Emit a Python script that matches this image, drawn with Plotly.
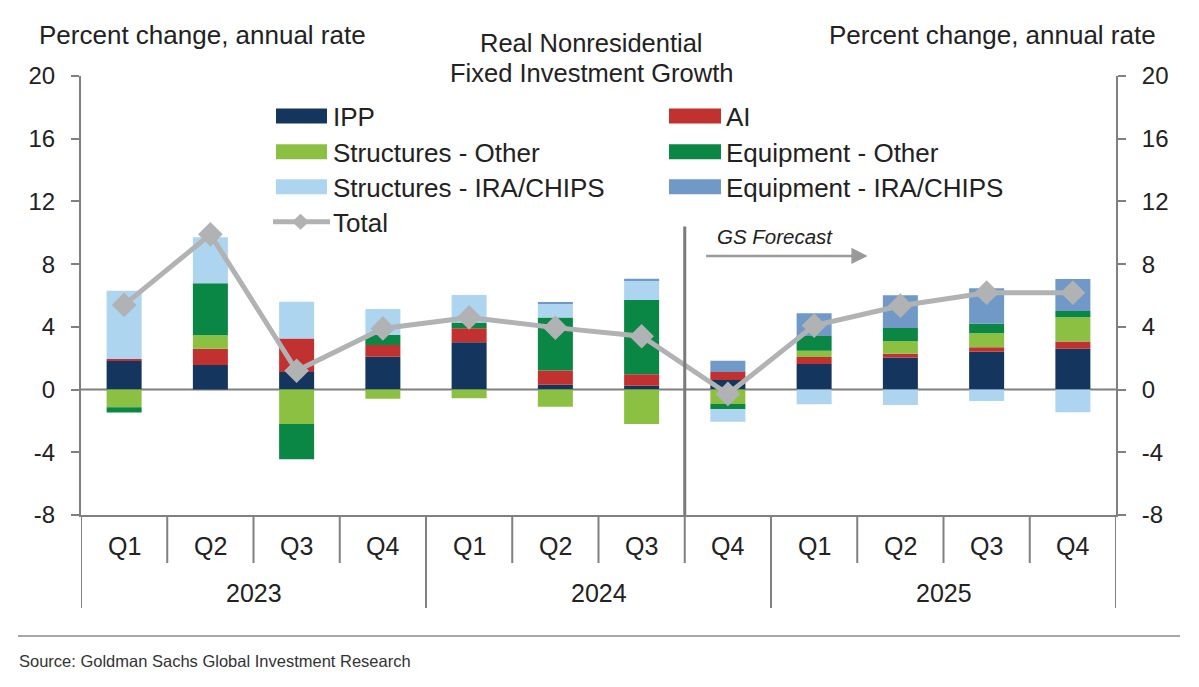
import plotly.graph_objects as go

quarters = ["Q1", "Q2", "Q3", "Q4"] * 3
years = ["2023", "2024", "2025"]

ipp = [1.84, 1.57, 1.12, 2.10, 3.02, 0.31, 0.25, 0.61, 1.63, 2.04, 2.42, 2.61]
ai = [0.11, 1.04, 2.13, 0.74, 0.89, 0.90, 0.73, 0.51, 0.45, 0.25, 0.28, 0.45]
struct_other = [-1.13, 0.85, -2.19, -0.58, -0.56, -1.09, -2.19, -0.92, 0.40, 0.81, 0.89, 1.55]
equip_other = [-0.34, 3.32, -2.26, 0.64, 0.36, 3.38, 4.73, -0.34, 0.94, 0.83, 0.61, 0.40]
struct_ira = [4.36, 2.93, 2.35, 1.66, 1.76, 0.89, 1.26, -0.79, -0.94, -0.98, -0.73, -1.45]
equip_ira = [0.0, 0.0, 0.0, 0.0, 0.0, 0.11, 0.10, 0.72, 1.45, 2.08, 2.26, 2.04]
total = [5.4, 9.9, 1.2, 3.9, 4.6, 3.95, 3.4, -0.28, 4.08, 5.35, 6.18, 6.18]

names = ["IPP", "AI", "Structures - Other", "Equipment - Other",
         "Structures - IRA/CHIPS", "Equipment - IRA/CHIPS"]
colors = ["#14365E", "#C0312F", "#8CC043", "#0A8745", "#AED5EF", "#7099C8"]
series = [ipp, ai, struct_other, equip_other, struct_ira, equip_ira]
total_color = "#B1B2B4"
axis_color = "#808080"
TXT = "#222222"
FONT = "Arial, Liberation Sans, sans-serif"

x = list(range(len(quarters)))

fig = go.Figure()
for nm, col, vals in zip(names, colors, series):
    fig.add_trace(go.Bar(x=x, y=vals, name=nm, marker=dict(color=col, line=dict(width=0)),
                         showlegend=False))
fig.add_trace(go.Scatter(x=x, y=total, name="Total", mode="lines+markers",
                         line=dict(color=total_color, width=5),
                         marker=dict(symbol="diamond", size=19, color=total_color),
                         showlegend=False))
# invisible trace for right axis
fig.add_trace(go.Scatter(x=[x[0]], y=[0], yaxis="y2", mode="markers",
                         marker=dict(opacity=0), showlegend=False, hoverinfo="skip"))

L, R, T, B = 81, 1116, 76, 515
W, H = R - L, B - T
def px(xp):
    return (xp - L) / W
def py(yp):
    return (B - yp) / H

shapes = []
annotations = []

def txt(xv, yv, text, size, xanchor="center", xref="paper", yref="paper", color=TXT, family=FONT):
    annotations.append(dict(xref=xref, yref=yref, x=xv, y=yv, text=text, showarrow=False,
                            xanchor=xanchor, yanchor="middle",
                            font=dict(size=size, color=color, family=family)))

# forecast divider line
shapes.append(dict(type="line", xref="x", yref="y", x0=6.5, x1=6.5, y0=-8, y1=10.4,
                   line=dict(color="#7A7A7A", width=3)))
annotations.append(dict(xref="x", yref="y", x=8.62, y=8.52, ax=6.73, ay=8.52,
                        axref="x", ayref="y", text="", showarrow=True,
                        arrowhead=2, arrowsize=1.3, arrowwidth=2.5, arrowcolor="#9A9A9A"))
txt(7.55, 9.75, "<i>GS Forecast</i>", 20.5, xref="x", yref="y")

# category labels and dividers
for i, q in enumerate(quarters):
    txt(i, py(546), q, 25, xref="x")
for k in range(1, 12):
    if k % 4 != 0:
        shapes.append(dict(type="line", xref="x", yref="paper", x0=k - 0.5, x1=k - 0.5,
                           y0=0, y1=py(563), line=dict(color=axis_color, width=2)))
for k in range(0, 13, 4):
    shapes.append(dict(type="line", xref="x", yref="paper", x0=k - 0.5, x1=k - 0.5,
                       y0=0, y1=py(608), line=dict(color=axis_color, width=2)))
for j, yr in enumerate(years):
    txt(4 * j + 1.5, py(593), yr, 25, xref="x")

# legend (manual)
rows = [116, 151.7, 186.7]
left_items = [(0, rows[0]), (2, rows[1]), (4, rows[2])]
right_items = [(1, rows[0]), (3, rows[1]), (5, rows[2])]
for idx, yy in left_items:
    shapes.append(dict(type="rect", xref="paper", yref="paper", x0=px(276), x1=px(327),
                       y0=py(yy + 7.5), y1=py(yy - 7.5), fillcolor=colors[idx], line=dict(width=0)))
    txt(px(331), py(yy + 1), names[idx], 26, xanchor="left")
for idx, yy in right_items:
    shapes.append(dict(type="rect", xref="paper", yref="paper", x0=px(669), x1=px(721),
                       y0=py(yy + 7.5), y1=py(yy - 7.5), fillcolor=colors[idx], line=dict(width=0)))
    txt(px(724), py(yy + 1), names[idx], 26, xanchor="left")
ty = 221.7
shapes.append(dict(type="line", xref="paper", yref="paper", x0=px(273), x1=px(330),
                   y0=py(ty), y1=py(ty), line=dict(color=total_color, width=5)))
shapes.append(dict(type="path", xref="paper", yref="paper",
                   path=f"M {px(292)},{py(ty)} L {px(300.5)},{py(ty-8)} L {px(309)},{py(ty)} L {px(300.5)},{py(ty+8)} Z",
                   fillcolor=total_color, line=dict(width=0)))
txt(px(331), py(ty + 1), "Total", 26, xanchor="left")

# titles
txt(px(591), py(43), "Real Nonresidential", 25.5)
txt(px(591), py(73), "Fixed Investment Growth", 25.5)
txt(px(37), py(35), "Percent change, annual rate", 26, xanchor="left")
txt(px(1158), py(35), "Percent change, annual rate", 26, xanchor="right")

# source
shapes.append(dict(type="line", xref="paper", yref="paper", x0=px(18), x1=px(1180),
                   y0=py(636), y1=py(636), line=dict(color="#8A8A8A", width=1.5)))
txt(px(17), py(661), "Source: Goldman Sachs Global Investment Research", 16.5,
    xanchor="left", color="#333333")

yaxis_common = dict(range=[-8, 20], tickmode="array", tickvals=list(range(-8, 21, 4)),
                    ticktext=[str(v) for v in range(-8, 21, 4)],
                    showgrid=False, zeroline=False, showline=True, linecolor=axis_color,
                    linewidth=2, ticks="outside", ticklen=8, tickwidth=2, tickcolor=axis_color,
                    ticklabelstandoff=11,
                    tickfont=dict(size=24, color=TXT, family=FONT), fixedrange=True)

fig.update_layout(
    width=1199, height=687,
    margin=dict(l=L, r=1199 - R, t=T, b=687 - B),
    paper_bgcolor="white", plot_bgcolor="white",
    barmode="relative", bargap=0.594,
    font=dict(family=FONT, color=TXT),
    xaxis=dict(range=[-0.5, 11.5], showticklabels=False, ticks="", showgrid=False,
               zeroline=False, showline=True, linecolor=axis_color, linewidth=2,
               fixedrange=True),
    yaxis=dict(**yaxis_common, side="left"),
    yaxis2=dict(**yaxis_common, side="right", overlaying="y"),
    shapes=shapes, annotations=annotations,
)
fig.add_shape(type="line", xref="paper", yref="y", x0=0, x1=1, y0=0, y1=0,
              line=dict(color=axis_color, width=2), layer="below")

fig.write_html("out.html", config={"displayModeBar": False})

# remove default page margin so the figure sits at (0,0)
with open("out.html", "r", encoding="utf-8") as f:
    html = f.read()
html = html.replace("<head>", "<head><style>html,body{margin:0;padding:0;}</style>", 1)
with open("out.html", "w", encoding="utf-8") as f:
    f.write(html)
